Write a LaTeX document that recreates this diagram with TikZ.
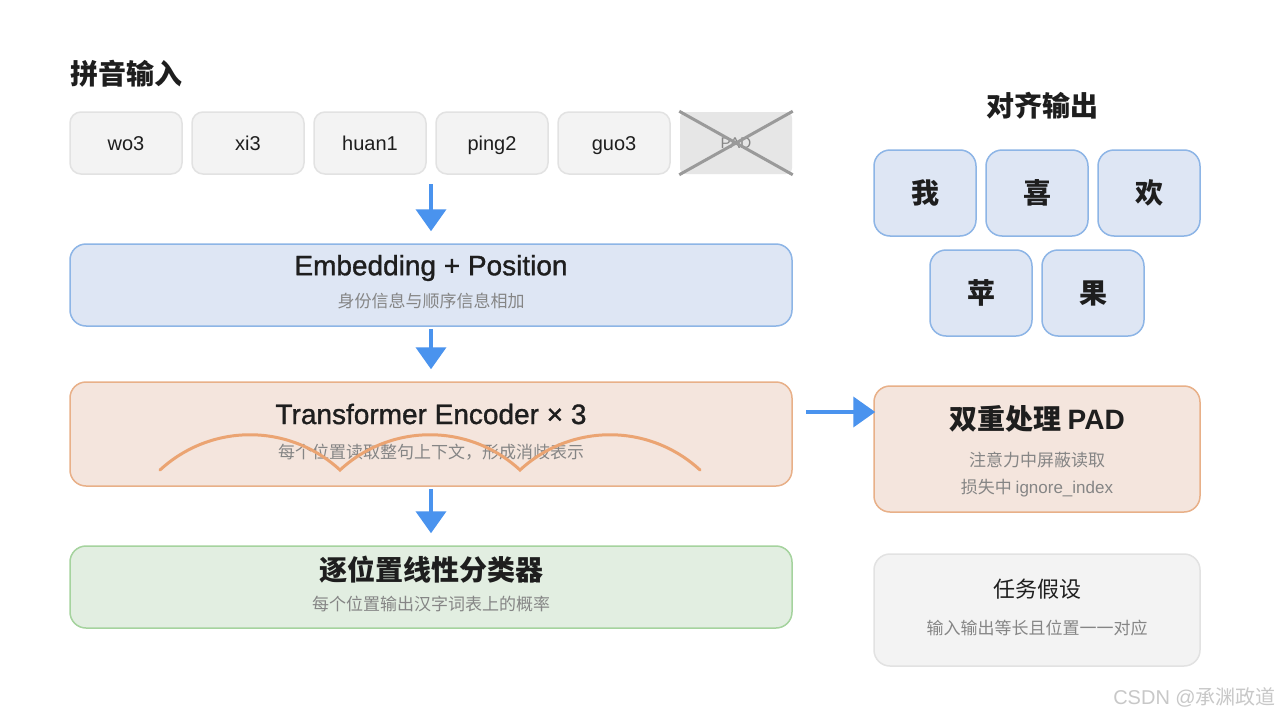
\documentclass[tikz,border=0pt]{standalone}
\usepackage{fontspec}
\setmainfont{Noto Sans CJK SC}
\newfontfamily\lat{Liberation Sans}
\newfontfamily\latm{Liberation Sans}[FakeBold=1.2]
\usetikzlibrary{arrows.meta}
\definecolor{txt}{HTML}{1E1E1E}
\definecolor{sub}{HTML}{858585}
\definecolor{tokf}{HTML}{F3F3F3}
\definecolor{tokb}{HTML}{E2E2E2}
\definecolor{padf}{HTML}{E6E6E6}
\definecolor{padx}{HTML}{9A9A9A}
\definecolor{bluef}{HTML}{DEE6F4}
\definecolor{blueb}{HTML}{8DB5E6}
\definecolor{orf}{HTML}{F4E5DD}
\definecolor{orb}{HTML}{E8B088}
\definecolor{arcc}{HTML}{EBA472}
\definecolor{grf}{HTML}{E2EEE1}
\definecolor{grb}{HTML}{A5D39E}
\definecolor{arrowc}{HTML}{4A93EE}
\definecolor{wm}{HTML}{C8C8C8}
\tikzset{
  tok/.style={draw=tokb, fill=tokf, line width=1.5pt, rounded corners=11pt,
    minimum width=112pt, minimum height=62pt, inner sep=0pt,
    text height=14.5pt, text depth=0pt,
    font=\lat\fontsize{20}{24}\selectfont, text=txt},
  bigbox/.style={line width=1.5pt, rounded corners=16pt, minimum width=722pt, inner sep=0pt},
  charbox/.style={draw=blueb, fill=bluef, line width=1.5pt, rounded corners=16pt,
    minimum width=102pt, minimum height=86pt, inner sep=0pt,
    font=\bfseries\fontsize{28}{32}\selectfont, text=txt},
  sidebox/.style={line width=1.5pt, rounded corners=16pt, minimum width=326pt, inner sep=0pt},
  ltitle/.style={font=\latm\fontsize{28}{32}\selectfont, text=txt, inner sep=0pt},
  ctitle/.style={font=\bfseries\fontsize{28}{32}\selectfont, text=txt, inner sep=0pt},
  subt/.style={font=\fontsize{17}{20}\selectfont, text=sub, inner sep=0pt},
  flow/.style={-{Triangle[width=30pt,length=22pt]}, line width=4pt, draw=arrowc},
  arcline/.style={draw=arcc, line width=3pt, line cap=round}
}
\begin{document}
\begin{tikzpicture}[x=1pt,y=-1pt]
\useasboundingbox (0,0) rectangle (1280,720);
\fill[white] (0,0) rectangle (1280,720);

% left column
\node[ctitle, anchor=west] (tin) at (70,74) {拼音输入};
\node[tok] (t1) at (126,143) {wo3};
\node[tok] (t2) at (248,143) {xi3};
\node[tok] (t3) at (370,143) {huan1};
\node[tok] (t4) at (492,143) {ping2};
\node[tok] (t5) at (614,143) {guo3};
\node[tok, draw=none, fill=padf, rounded corners=6pt, text=sub, text height=11pt,
  font=\lat\fontsize{15.5}{18}\selectfont] (t6) at (736,143) {PAD};
\draw[padx, line width=3pt] (t6.north west) -- (t6.south east);
\draw[padx, line width=3pt] (t6.south west) -- (t6.north east);
\coordinate (tokbot) at (431,174);

\node[bigbox, draw=blueb, fill=bluef, minimum height=82pt] (emb) at (431,285) {};
\node[ltitle] (embt) at (431,268) {Embedding + Position};
\node[subt] (embs) at (431,301) {身份信息与顺序信息相加};

\node[bigbox, draw=orb, fill=orf, minimum height=104pt] (enc) at (431,434) {};
\node[ltitle] (enct) at (431,414) {Transformer Encoder × 3};
\node[subt] (encs) at (431,452) {每个位置读取整句上下文，形成消歧表示};
\draw[arcline] (160,470) .. controls (211,423) and (289,423) .. (340,470)
  .. controls (391,423) and (469,423) .. (520,470)
  .. controls (571,423) and (649,423) .. (700,470);

\node[bigbox, draw=grb, fill=grf, minimum height=82pt] (cls) at (431,587) {};
\node[ctitle] (clst) at (431,570) {逐位置线性分类器};
\node[subt] (clss) at (431,604) {每个位置输出汉字词表上的概率};

\draw[flow, shorten <=10pt, shorten >=12pt] (tokbot) -- (emb.north);
\draw[flow, shorten <=2pt, shorten >=12pt] (emb.south) -- (enc.north);
\draw[flow, shorten <=2pt, shorten >=12pt] (enc.south) -- (cls.north);

% right column
\node[ctitle] (outt) at (1042,106) {对齐输出};
\node[charbox] (c1) at (925,193) {我};
\node[charbox] (c2) at (1037,193) {喜};
\node[charbox] (c3) at (1149,193) {欢};
\node[charbox] (c4) at (981,293) {苹};
\node[charbox] (c5) at (1093,293) {果};

\node[sidebox, draw=orb, fill=orf, minimum height=126pt] (pad) at (1037,449) {};
\node[ctitle] (padt) at (1037,419) {双重处理 {\lat\bfseries PAD}};
\node[subt] (pads1) at (1037,460) {注意力中屏蔽读取};
\node[subt] (pads2) at (1037,488) {损失中 {\lat ignore\_index}};

\coordinate (encr) at (792,412);
\draw[flow, shorten <=14pt, shorten >=-2pt] (encr) -- (pad.west |- encr);

\node[sidebox, draw=tokb, fill=tokf, minimum height=112pt] (task) at (1037,610) {};
\node[font=\fontsize{22}{26}\selectfont, text=txt, inner sep=0pt] (taskt) at (1037,589) {任务假设};
\node[subt] (tasks) at (1037,628) {输入输出等长且位置一一对应};

\node[anchor=east, font=\fontsize{20}{24}\selectfont, text=wm, inner sep=0pt] (wmk) at (1276,697) {{\lat CSDN @}承渊政道};
\end{tikzpicture}
\end{document}
